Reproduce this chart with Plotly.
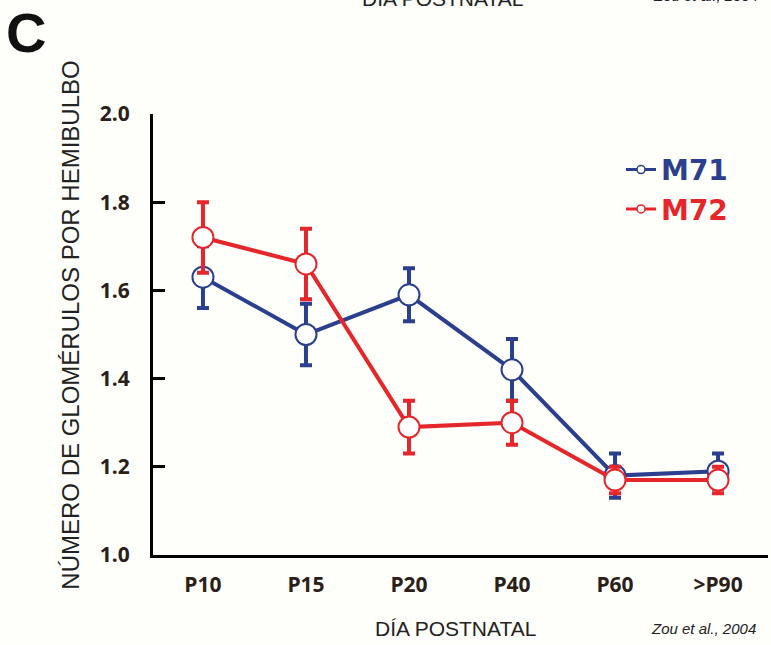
import plotly.graph_objects as go

# ---- data ----
categories = ["P10", "P15", "P20", "P40", "P60", ">P90"]
m71_values = [1.63, 1.50, 1.59, 1.42, 1.18, 1.19]
m71_errors = [0.07, 0.07, 0.06, 0.07, 0.05, 0.04]
m72_values = [1.72, 1.66, 1.29, 1.30, 1.17, 1.17]
m72_errors = [0.08, 0.08, 0.06, 0.05, 0.03, 0.03]
y_ticks = [1.0, 1.2, 1.4, 1.6, 1.8, 2.0]
y_tick_labels = ["1.0", "1.2", "1.4", "1.6", "1.8", "2.0"]

BLUE = "#2b3f8e"
RED = "#e5262b"
TICKCOL = "#2a2018"
BG = "#fefefb"

fig = go.Figure()

for name, vals, errs, col in [("M71", m71_values, m71_errors, BLUE),
                              ("M72", m72_values, m72_errors, RED)]:
    fig.add_trace(go.Scatter(
        x=categories, y=vals, mode="lines+markers", name=name,
        showlegend=False, cliponaxis=False,
        line=dict(color=col, width=4),
        marker=dict(size=21, color="white", line=dict(color=col, width=2)),
        error_y=dict(type="data", array=errs, visible=True,
                     color=col, thickness=4, width=6),
    ))

# legend-only entries (small open circle on a line, as in the reference)
for name, col in [("M71", BLUE), ("M72", RED)]:
    fig.add_trace(go.Scatter(
        x=[None], y=[None], mode="lines+markers",
        name=f"<span style='color:{col}'><b>{name}</b></span>",
        line=dict(color=col, width=3),
        marker=dict(size=8, color="white", line=dict(color=col, width=1.5)),
    ))

fig.update_layout(
    width=771, height=645,
    margin=dict(l=153, r=3, t=114, b=90),
    paper_bgcolor=BG, plot_bgcolor=BG,
    font=dict(family="Liberation Sans, Arial, sans-serif", color="#222"),
    showlegend=True,
    legend=dict(x=0.761, y=0.93, xanchor="left", yanchor="top",
                bgcolor="rgba(0,0,0,0)",
                font=dict(size=28, family="DejaVu Sans, Liberation Sans, Arial"),
                tracegroupgap=0, itemclick=False),
    xaxis=dict(
        type="category", categoryorder="array", categoryarray=categories,
        range=[-0.485, 5.485], showgrid=False, zeroline=False,
        showline=True, linecolor="black", linewidth=3,
        ticks="", ticklabelstandoff=9,
        tickfont=dict(family="Open Sans, sans-serif", size=21, color=TICKCOL,
                      weight="bold"),
    ),
    yaxis=dict(
        range=[1.0, 2.0], tickvals=y_ticks, ticktext=y_tick_labels,
        showgrid=False, zeroline=False,
        showline=True, linecolor="black", linewidth=3,
        ticks="inside", ticklen=12, tickwidth=3, tickcolor="black",
        ticklabelstandoff=16,
        tickfont=dict(family="Open Sans, sans-serif", size=21, color=TICKCOL,
                      weight="bold"),
    ),
)

annotations = [
    dict(text="C", x=-0.207, y=1.184, xref="paper", yref="paper",
         xanchor="center", yanchor="middle", showarrow=False,
         font=dict(family="Liberation Sans Narrow, Arial Narrow, Liberation Sans, Arial",
                   size=56, color="#111", weight="bold")),
    dict(text="NÚMERO DE GLOMÉRULOS POR HEMIBULBO", x=-0.1333, y=0.52,
         xref="paper", yref="paper", textangle=-90,
         xanchor="center", yanchor="middle", showarrow=False,
         font=dict(family="Liberation Sans, Arial", size=24, color="#222")),
    dict(text="DÍA POSTNATAL", x=0.4911, y=-0.166, xref="paper", yref="paper",
         xanchor="center", yanchor="middle", showarrow=False,
         font=dict(family="Liberation Sans, Arial", size=21, color="#222")),
    dict(text="<i>Zou et al., 2004</i>", x=0.8959, y=-0.166,
         xref="paper", yref="paper", xanchor="center", yanchor="middle",
         showarrow=False,
         font=dict(family="Liberation Sans Narrow, Liberation Sans, Arial",
                   size=15, color="#222")),
    # cut-off texts of the panel above (partly outside the picture, as in the reference)
    dict(text="DÍA POSTNATAL", x=0.4715, y=1.2608, xref="paper", yref="paper",
         xanchor="center", yanchor="middle", showarrow=False,
         font=dict(family="Liberation Sans, Arial", size=21, color="#222")),
    dict(text="<i>Zou et al., 2004</i>", x=0.899, y=1.268,
         xref="paper", yref="paper", xanchor="center", yanchor="middle",
         showarrow=False,
         font=dict(family="Liberation Sans Narrow, Liberation Sans, Arial",
                   size=15, color="#222")),
]
fig.update_layout(annotations=annotations)

fig.write_html("out.html")
